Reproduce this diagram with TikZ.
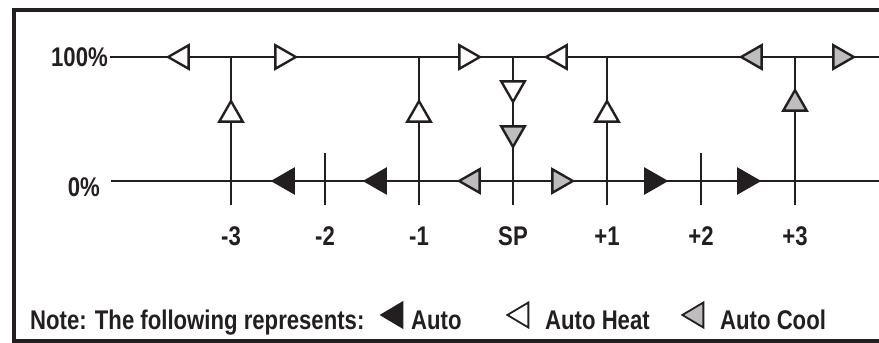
\documentclass[tikz,border=0pt]{standalone}
\usepackage{fontspec}
\newfontfamily\diagfont[FakeStretch=0.82]{Liberation Sans Bold}
\usetikzlibrary{shapes.geometric,positioning}
\definecolor{ink}{RGB}{35,31,32}
\definecolor{coolgray}{RGB}{190,190,190}
\tikzset{
  lbl/.style={font=\diagfont\fontsize{27}{32}\selectfont,text=ink,inner sep=0pt},
  wire/.style={draw=ink,line width=2.8pt},
  tri/.style={draw=ink,line width=2.4pt,isosceles triangle,isosceles triangle stretches,
    minimum width=23.5pt,minimum height=20.5pt,inner sep=0pt,anchor=apex},
  heattri/.style={tri,fill=white},
  cooltri/.style={tri,fill=coolgray},
  autotri/.style={tri,fill=ink},
  keytri/.style={line width=1.8pt,minimum width=25pt,minimum height=21pt},
  ptleft/.style={shape border rotate=180},
  ptright/.style={shape border rotate=0},
  ptup/.style={shape border rotate=90},
  ptdown/.style={shape border rotate=270}
}

\begin{document}
\begin{tikzpicture}[x=1pt,y=-1pt]
\useasboundingbox (0,0) rectangle (879,343);
% frame, open on the right
\draw [ink,line width=4pt] (879,10) -- (14,10) -- (14,341) -- (879,341);

% output levels
\node [lbl,anchor=east] (full) at (108,57) {100\%};
\node [lbl,anchor=east] (zero) at (100,187) {0\%};
\coordinate (fullW) at (110,57);
\coordinate (fullE) at (879,57);
\coordinate (zeroW) at (111,181);
\coordinate (zeroE) at (879,181);
\draw [wire] (fullW) -- (fullE);
\draw [wire] (zeroW) -- (zeroE);

% steps around the set point
\coordinate (m3top) at (231,57);  \coordinate (m3bot) at (231,205);
\coordinate (m2top) at (325,153); \coordinate (m2bot) at (325,205);
\coordinate (m1top) at (419,57);  \coordinate (m1bot) at (419,205);
\coordinate (sptop) at (513,57);  \coordinate (spbot) at (513,205);
\coordinate (p1top) at (607,57);  \coordinate (p1bot) at (607,205);
\coordinate (p2top) at (701,153); \coordinate (p2bot) at (701,205);
\coordinate (p3top) at (795,57);  \coordinate (p3bot) at (795,205);
\draw [wire] (m3top) -- (m3bot);
\draw [wire] (m2top) -- (m2bot);
\draw [wire] (m1top) -- (m1bot);
\draw [wire] (sptop) -- (spbot);
\draw [wire] (p1top) -- (p1bot);
\draw [wire] (p2top) -- (p2bot);
\draw [wire] (p3top) -- (p3bot);

\node [lbl] (m3) at (231,236) {-3};
\node [lbl] (m2) at (325,236) {-2};
\node [lbl] (m1) at (419,236) {-1};
\node [lbl] (sp) at (513,236) {SP};
\node [lbl] (p1) at (607,236) {+1};
\node [lbl] (p2) at (701,236) {+2};
\node [lbl] (p3) at (795,236) {+3};

% arrows on the 100% line
\node [heattri,ptleft]  (h1) at (165,57) {};
\node [heattri,ptright] (h2) at (299,57) {};
\node [heattri,ptright] (h3) at (483,57) {};
\node [heattri,ptleft]  (h4) at (543,57) {};
\node [cooltri,ptleft]  (c1) at (738,57) {};
\node [cooltri,ptright] (c2) at (857,57) {};

% arrows on the steps
\node [heattri,ptup]   (h5) at (231,98) {};
\node [heattri,ptup]   (h6) at (419,98) {};
\node [heattri,ptdown] (h7) at (513,105) {};
\node [cooltri,ptdown] (c3) at (513,150) {};
\node [heattri,ptup]   (h8) at (607,98) {};
\node [cooltri,ptup]   (c4) at (795,87) {};

% arrows on the 0% line
\node [autotri,ptleft]  (a1) at (270,181) {};
\node [autotri,ptleft]  (a2) at (362,181) {};
\node [cooltri,ptleft]  (c5) at (456,181) {};
\node [cooltri,ptright] (c6) at (576,181) {};
\node [autotri,ptright] (a3) at (669,181) {};
\node [autotri,ptright] (a4) at (762,181) {};

% legend
\node [lbl,anchor=base west] (note) at (30,329) {Note: The following represents:};
\node [autotri,ptleft,keytri] (keyauto) at (379,315) {};
\node [lbl,anchor=base west] (txtauto) at (411,329) {Auto};
\node [heattri,ptleft,keytri] (keyheat) at (505,315) {};
\node [lbl,anchor=base west] (txtheat) at (545,329) {Auto Heat};
\node [cooltri,ptleft,keytri] (keycool) at (680,315) {};
\node [lbl,anchor=base west] (txtcool) at (720,329) {Auto Cool};
\end{tikzpicture}
\end{document}
